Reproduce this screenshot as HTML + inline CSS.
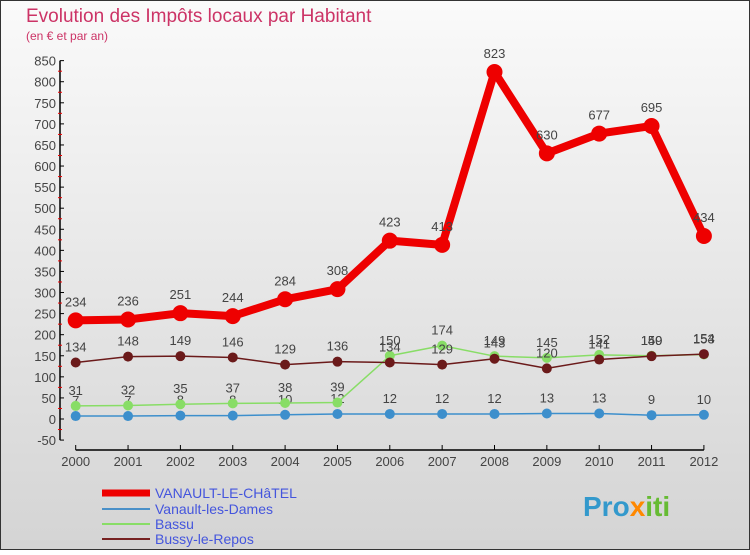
<!DOCTYPE html>
<html><head><meta charset="utf-8"><style>
body{margin:0;width:750px;height:550px;overflow:hidden;font-family:"Liberation Sans",sans-serif}
</style></head><body>
<svg width="750" height="550" xmlns="http://www.w3.org/2000/svg" font-family="Liberation Sans, sans-serif">
<defs><linearGradient id="bg" x1="0" y1="0" x2="0" y2="1"><stop offset="0" stop-color="#fafafa"/><stop offset="1" stop-color="#d4d4d4"/></linearGradient></defs>
<rect x="0.5" y="0.5" width="749" height="549" fill="url(#bg)" stroke="#333"/>
<text x="26" y="22" font-size="19" fill="#cc3366">Evolution des Impôts locaux par Habitant</text>
<text x="26" y="40" font-size="12" fill="#cc3366">(en € et par an)</text>
<g id="axes"></g><g id="series"></g>
<g font-size="14" fill="#4455dd">
<line x1="102" y1="493" x2="150" y2="493" stroke="#ee0000" stroke-width="7"/><text x="155" y="498">VANAULT-LE-CHâTEL</text>
<line x1="102" y1="509" x2="150" y2="509" stroke="#4a90c8" stroke-width="2"/><text x="155" y="514">Vanault-les-Dames</text>
<line x1="102" y1="524" x2="150" y2="524" stroke="#88dd66" stroke-width="2"/><text x="155" y="529">Bassu</text>
<line x1="102" y1="539" x2="150" y2="539" stroke="#772222" stroke-width="2"/><text x="155" y="544">Bussy-le-Repos</text>
</g>
<text x="583" y="516" font-size="28" font-weight="bold" fill="#3399cc">Pro<tspan fill="#ff8800">x</tspan><tspan fill="#66bb33">iti</tspan></text>
</svg>
<script>
const years=[2000,2001,2002,2003,2004,2005,2006,2007,2008,2009,2010,2011,2012];
const vanault=[234,236,251,244,284,308,423,413,823,630,677,695,434];
const dames=[7,7,8,8,10,12,12,12,12,13,13,9,10];
const bassu=[31,32,35,37,38,39,150,174,149,145,152,150,153];
const bussy=[134,148,149,146,129,136,134,129,143,120,141,149,154];
const yTicks=[-50,0,50,100,150,200,250,300,350,400,450,500,550,600,650,700,750,800,850];
const NS="http://www.w3.org/2000/svg";
const x=i=>75.7+i*52.35, y=v=>419-v*0.4216;
function mk(t,a,p){const e=document.createElementNS(NS,t);for(const k in a)e.setAttribute(k,a[k]);p.appendChild(e);return e;}
const ax=document.getElementById('axes');
mk('line',{x1:60,y1:y(-50),x2:60,y2:y(850),stroke:'#000','stroke-width':1.5},ax);
mk('line',{x1:x(0),y1:450,x2:x(12),y2:450,stroke:'#000','stroke-width':1.5},ax);
yTicks.forEach(v=>{
 mk('line',{x1:60,y1:y(v),x2:64,y2:y(v),stroke:'#000'},ax);
 if(v<850)mk('line',{x1:58,y1:y(v+25),x2:62,y2:y(v+25),stroke:'#e00'},ax);
 const t=mk('text',{x:56,y:y(v)+5,'text-anchor':'end','font-size':13,fill:'#444'},ax);t.textContent=v;
 
 
});
years.forEach((yr,i)=>{
 mk('line',{x1:x(i),y1:445,x2:x(i),y2:450,stroke:'#000'},ax);
 const t=mk('text',{x:x(i),y:466,'text-anchor':'middle','font-size':13,fill:'#444'},ax);t.textContent=yr;
 
 
});
const sg=document.getElementById('series');
function series(d,col,w,r,name){
 const g=mk('g',{},sg);
 
 
 mk('polyline',{points:d.map((v,i)=>x(i)+','+y(v)).join(' '),fill:'none',stroke:col,'stroke-width':w,'stroke-linejoin':'round'},g);
 d.forEach((v,i)=>{
  const c=mk('circle',{cx:x(i),cy:y(v),r:r,fill:col},g);
  
  
  const t=mk('text',{x:x(i),y:y(v)-r-6,'text-anchor':'middle','font-size':13,fill:'#444'},g);t.textContent=v;
 });
}
series(dames,'#3d8fcc',1.5,5,'vanault-les-dames-series');
series(bassu,'#88dd66',1.5,5,'bassu-series');
series(bussy,'#6b1a1a',1.5,5,'bussy-le-repos-series');
series(vanault,'#ee0000',8,8,'vanault-le-chatel-series');
</script>
</body></html>
